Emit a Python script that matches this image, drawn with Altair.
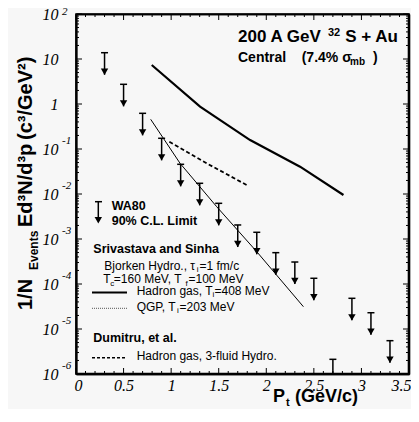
import altair as alt
import pandas as pd

# ---------------- data ----------------
PT_LIMITS = [0.3, 0.5, 0.7, 0.9, 1.1, 1.3, 1.5, 1.7, 1.9, 2.1, 2.3, 2.5, 2.7, 2.9, 3.1, 3.3]
LIMIT_UPPER = [13.8, 2.74, 0.621, 0.173, 0.0457, 0.0173, 0.00621, 0.00205, 0.00141,
               4.97e-4, 3.08e-4, 1.34e-4, 2.12e-6, 4.81e-5, 2.30e-5, 5.5e-6]
ARROW_DECADES = 0.49  # length of the down-arrow (in decades)

HADRON_PT = [0.796, 1.304, 1.830, 2.355, 2.811]
HADRON_VAL = [7.36, 0.871, 0.158, 0.0405, 0.0095]
QGP_PT = [0.785, 1.094, 1.479, 1.900, 2.390]
QGP_VAL = [0.457, 0.048, 0.00522, 5.22e-4, 3.13e-5]
DUMITRU_PT = [0.981, 1.374, 1.795]
DUMITRU_VAL = [0.145, 0.048, 0.0158]

X_MAJOR = [0, 0.5, 1, 1.5, 2, 2.5, 3, 3.5]
X_MINOR = [round(0.1 * i, 1) for i in range(36) if i % 5]
Y_MAJOR = [1e2, 1e1, 1, 1e-1, 1e-2, 1e-3, 1e-4, 1e-5, 1e-6]
Y_EXP = ["2", "", "", "-1", "-2", "-3", "-4", "-5", "-6"]
Y_MINOR = [m * 10.0 ** k for k in range(-6, 2) for m in range(2, 10)]

# ---------------- styling ----------------
W, H = 333, 360
SANS = "Liberation Sans"
SERIF = "Liberation Serif"
BG = "#f7f7f7"
ONE = pd.DataFrame({"k": [0]})
Y_MIN = 1e-6
FW = 1.6


def txt(s, x, y, size, weight="normal", align="left", angle=0, font=SANS):
    return alt.Chart(ONE).mark_text(
        x=x, y=y, align=align, baseline="alphabetic", angle=angle, font=font,
        fontSize=size, fontWeight=weight, color="black").encode(text=alt.value(s))


def hrule(x1, x2, y, color="black", **kw):
    return alt.Chart(ONE).mark_rule(color=color, **kw).encode(
        x=alt.value(x1), x2=alt.value(x2), y=alt.value(y))


def vrule(x, y1, y2, color="black", **kw):
    return alt.Chart(ONE).mark_rule(color=color, **kw).encode(
        x=alt.value(x), y=alt.value(y1), y2=alt.value(y2))


xs = alt.Scale(domain=[0, 3.5], nice=False, zero=False)
ys = alt.Scale(type="log", domain=[Y_MIN, 1e2], nice=False, clamp=True)

# label axes; their grid draws the frame at the domain ends
x_lab = alt.Axis(orient="bottom", values=X_MAJOR, format="~g", ticks=False, tickSize=0,
                 domain=True, domainColor="black", domainWidth=FW,
                 grid=True, gridWidth=FW,
                 gridColor={"condition": {"test": "datum.value <= 0 || datum.value >= 3.5",
                                          "value": "black"}, "value": "transparent"},
                 labelFont=SERIF, labelFontStyle="italic",
                 labelFontSize=16, labelPadding=3, labelColor="black", labelFlush=True,
                 labelFlushOffset=2, labelOverlap=False, title=None)
y_lab = alt.Axis(orient="left", values=Y_MAJOR, labelExpr="datum.value == 1 ? '1' : '10'",
                 ticks=False, tickSize=0, domain=True, domainColor="black", domainWidth=FW,
                 grid=True, gridWidth=FW,
                 gridColor={"condition": {"test": "datum.value <= 1.01e-6 || datum.value >= 99",
                                          "value": "black"}, "value": "transparent"},
                 labelFont=SERIF, labelFontStyle="italic", labelFontSize=16, labelPadding=18,
                 labelColor="black", labelFlush=False, labelOverlap=False, title=None)

# ---------------- data frames ----------------
limits = pd.DataFrame({"pt": PT_LIMITS, "top": LIMIT_UPPER})
limits["tip"] = limits["top"] * 10 ** (-ARROW_DECADES)
hadron = pd.DataFrame({"pt": HADRON_PT, "v": HADRON_VAL})
qgp = pd.DataFrame({"pt": QGP_PT, "v": QGP_VAL})
dumitru = pd.DataFrame({"pt": DUMITRU_PT, "v": DUMITRU_VAL})
exps = pd.DataFrame({"v": Y_MAJOR, "e": Y_EXP})
exps = exps[exps["e"] != ""].reset_index(drop=True)
exp_top = exps[exps["v"] >= 100].reset_index(drop=True)
exp_rest = exps[exps["v"] < 100].reset_index(drop=True)


# ---------------- inward ticks (from the tick value lists) ----------------
def xticks(vals, y1, y2):
    return alt.Chart(pd.DataFrame({"tv": vals})).mark_rule(color="black", strokeWidth=1).encode(
        x=alt.X("tv:Q", scale=xs, axis=None), y=alt.value(y1), y2=alt.value(y2))


def yticks(vals, x1, x2):
    return alt.Chart(pd.DataFrame({"tv": vals})).mark_rule(color="black", strokeWidth=1).encode(
        y=alt.Y("tv:Q", scale=ys, axis=None), x=alt.value(x1), x2=alt.value(x2))


MAJ, MIN = 6, 3
ticks = [xticks(X_MAJOR, H - 0.5, H - MAJ), xticks(X_MINOR, H - 0.5, H - MIN),
         xticks(X_MAJOR, 0.5, MAJ), xticks(X_MINOR, 0.5, MIN),
         yticks(Y_MAJOR, 0.5, MAJ), yticks(Y_MINOR, 0.5, MIN),
         yticks(Y_MAJOR, W - 0.5, W - MAJ), yticks(Y_MINOR, W - 0.5, W - MIN)]
frame = [hrule(0, W, 0.5, strokeWidth=FW), hrule(0, W, H - 0.5, strokeWidth=FW),
         vrule(0.5, 0, H, strokeWidth=FW), vrule(W - 0.5, 0, H, strokeWidth=FW)]

# ---------------- data layers ----------------
l_hadron = alt.Chart(hadron).mark_line(color="black", strokeWidth=2.2).encode(
    x=alt.X("pt:Q", scale=xs, axis=x_lab), y=alt.Y("v:Q", scale=ys, axis=y_lab))
l_qgp = alt.Chart(qgp).mark_line(color="black", strokeWidth=1).encode(
    x=alt.X("pt:Q", scale=xs, axis=None), y=alt.Y("v:Q", scale=ys, axis=None))
l_dum = alt.Chart(dumitru).mark_line(color="black", strokeWidth=1.8,
                                     strokeDash=[4, 2.5]).encode(
    x=alt.X("pt:Q", scale=xs, axis=None), y=alt.Y("v:Q", scale=ys, axis=None))
l_shaft = alt.Chart(limits).mark_rule(color="black", strokeWidth=1.5).encode(
    x=alt.X("pt:Q", scale=xs, axis=None), y=alt.Y("top:Q", scale=ys, axis=None), y2="tip:Q")
# caps of the upper limits: short horizontal strokes
l_cap = alt.Chart(limits).mark_point(shape="stroke", size=49, filled=False, color="black",
                                     strokeWidth=1.5, opacity=1).encode(
    x=alt.X("pt:Q", scale=xs, axis=None), y=alt.Y("top:Q", scale=ys, axis=None))
# arrow heads that fall below the plotted range are hidden (as in the original)
l_head = alt.Chart(limits).transform_filter(alt.datum.tip >= Y_MIN).mark_point(
    shape="triangle-down", filled=True, size=55, color="black", opacity=1, yOffset=-3).encode(
    x=alt.X("pt:Q", scale=xs, axis=None), y=alt.Y("tip:Q", scale=ys, axis=None))


def exp_layer(df, raise_px):
    return alt.Chart(df).mark_text(align="left", baseline="middle", dy=-raise_px, font=SERIF,
                                   fontStyle="italic", fontSize=11, color="black").encode(
        x=alt.value(-14), y=alt.Y("v:Q", scale=ys, axis=None), text="e:N")


l_exp = [exp_layer(exp_top, 2), exp_layer(exp_rest, 8)]

# ---------------- annotations (plot-relative pixel anchors) ----------------
ann = []
# y-axis title (rotated, reading upward)
ann += [txt("1/N", -44, 296, 20, "bold", angle=270),
        txt("Events", -37.7, 256, 12, "bold", angle=270),
        txt("Ed³N/d³p", -44, 213, 20, "bold", angle=270),
        txt("(c³/GeV²)", -44, 126, 20, "bold", angle=270)]
# x-axis title
ann += [txt("P", 197, 387.5, 18, "bold"),
        txt("t", 210, 391.5, 11, "bold"),
        txt("(GeV/c)", 219, 387.5, 18, "bold")]
# header
ann += [txt("200 A GeV", 162, 27.7, 17, "bold"),
        txt("32", 252, 21.7, 11, "bold"),
        txt("S + Au", 322, 27.7, 17, "bold", align="right"),
        txt("Central", 162, 47.7, 14, "bold"),
        txt("(7.4% σ", 225.7, 47.7, 14, "bold"),
        txt("mb", 274, 50.7, 10, "bold"),
        txt(")", 297, 47.7, 14, "bold")]
# legend text
LB, LR, LSUB = 12.5, 12, 8
ann += [txt("WA80", 35.7, 196, LB, "bold"),
        txt("90% C.L. Limit", 35.7, 211, LB, "bold"),
        txt("Srivastava and Sinha", 17.3, 239.3, LB, "bold"),
        txt("Bjorken Hydro., τ", 28.3, 255.7, LR),
        txt("i", 120.7, 258.2, LSUB),
        txt("=1 fm/c", 123.5, 255.7, LR),
        txt("T", 27.3, 269, LR),
        txt("c", 34.3, 271.5, LSUB),
        txt("=160 MeV, T", 37.8, 269, LR),
        txt("f", 109.5, 271.5, LSUB),
        txt("=100 MeV", 112.5, 269, LR),
        txt("Hadron gas, T", 60.7, 280.7, LR),
        txt("i", 136.5, 283.2, LSUB),
        txt("=408 MeV", 138.5, 280.7, LR),
        txt("QGP, T", 60.7, 296.7, LR),
        txt("i", 101, 299.2, LSUB),
        txt("=203 MeV", 103.5, 296.7, LR),
        txt("Dumitru, et al.", 17.3, 328.3, LB, "bold"),
        txt("Hadron gas, 3-fluid Hydro.", 60.7, 346, LR)]

# legend symbols
ann.append(vrule(22.3, 187.7, 206, strokeWidth=1.5))
ann.append(hrule(19, 26, 187.7, strokeWidth=1.5))
ann.append(alt.Chart(ONE).mark_point(shape="triangle-down", filled=True, size=55, color="black",
                                     opacity=1).encode(x=alt.value(22.3), y=alt.value(206.3)))
ann.append(hrule(16, 51, 278.5, strokeWidth=2.2))
ann.append(hrule(16, 51, 294.3, color="#555555", strokeWidth=1, strokeDash=[1, 1]))
ann.append(hrule(16, 51, 343.7, strokeWidth=1.5, strokeDash=[3, 2]))

chart = alt.layer(l_hadron, l_qgp, l_dum, l_shaft, l_cap, l_head, *l_exp, *ann,
                  *frame, *ticks).resolve_axis(x="independent", y="independent").properties(
    width=W, height=H,
    autosize=alt.AutoSizeParams(type="none"),
    padding={"left": 68, "top": 6, "right": 2, "bottom": 35},
    background=BG,
).configure_view(stroke="black", strokeWidth=FW)

chart.save("out.html", embed_options={"renderer": "svg", "actions": False})
